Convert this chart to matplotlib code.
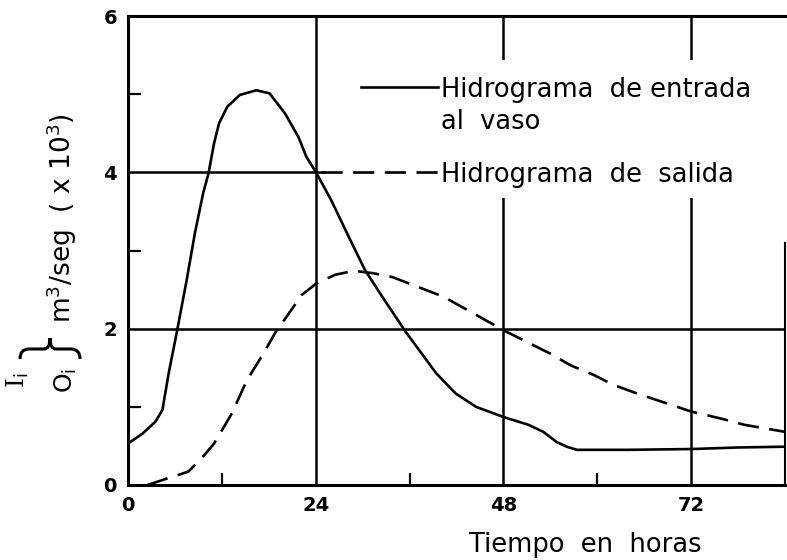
import matplotlib
matplotlib.use('Agg')
import matplotlib.pyplot as plt
from matplotlib.patches import Rectangle, PathPatch
from matplotlib.path import Path

# Hidrograma de entrada al vaso: tiempo (h) y gasto (x 10^3 m3/seg)
t_entrada = [0, 1.9, 3.5, 4.4, 5.2, 6.25, 7.5, 8.55, 9.6, 10.3, 11.0, 11.65, 12.7,
             14.3, 16.4, 18.1, 20.1, 21.8, 22.8, 24.1, 26.0, 28.2, 30.3, 32.5,
             35.5, 39.4, 41.9, 44.5, 48.0, 51.2, 53.1, 54.8, 56.1, 57.4, 64.0,
             72.0, 78.0, 84.0]
q_entrada = [0.53, 0.66, 0.81, 0.96, 1.43, 1.96, 2.62, 3.22, 3.73, 3.99, 4.37, 4.63, 4.84,
             4.99, 5.05, 5.01, 4.75, 4.45, 4.2, 3.99, 3.64, 3.18, 2.75, 2.41,
             1.96, 1.43, 1.17, 1.0, 0.87, 0.77, 0.68, 0.55, 0.49, 0.45, 0.45,
             0.46, 0.48, 0.49]

# Hidrograma de salida
t_salida = [2.5, 5.2, 7.7, 9.4, 11.0, 12.3, 13.3, 15.2, 17.3, 18.9, 20.6, 22.2,
            24.1, 26.5, 28.9, 31.3, 33.8, 36.4, 40.3, 44.1, 48.0, 51.4, 54.0,
            56.6, 59.5, 62.1, 65.1, 68.1, 72.0, 75.8, 78.8, 84.0]
q_salida = [0.0, 0.09, 0.17, 0.34, 0.53, 0.75, 0.92, 1.34, 1.68, 1.96, 2.2, 2.43,
            2.58, 2.69, 2.74, 2.71, 2.66, 2.56, 2.41, 2.2, 1.98, 1.81, 1.68,
            1.53, 1.41, 1.28, 1.17, 1.07, 0.94, 0.85, 0.77, 0.68]

x_ticks = [0, 24, 48, 72]
x_minor = [12, 36, 60]
y_ticks = [0, 2, 4, 6]
y_minor = [1, 3, 5]

plt.rcParams['font.family'] = ['DejaVu Sans']

W, H = 787, 560
fig = plt.figure(figsize=(W/100, H/100), dpi=100)
ax = fig.add_axes([128/W, 75/H, 657/W, 469/H])
ax.set_xlim(0, 84)
ax.set_ylim(0, 6)

ax.set_xticks(x_ticks)
ax.set_xticks(x_minor, minor=True)
ax.set_yticks(y_ticks)
ax.set_yticks(y_minor, minor=True)
ax.tick_params(which='major', length=0, labelsize=14, pad=8)
ax.tick_params(which='minor', direction='in', length=9, width=1.6)
for lab in ax.get_xticklabels() + ax.get_yticklabels():
    lab.set_fontweight('bold')

ax.grid(True, which='major', color='black', lw=1.8)
ax.set_axisbelow(True)
for s in ax.spines.values():
    s.set_linewidth(2.2)
ax.spines['right'].set_linewidth(1.5)
ax.spines['right'].set_bounds(0, 3.1)

# curvas
ax.plot(t_entrada, q_entrada, color='black', lw=1.9, zorder=3)
ax.plot(t_salida, q_salida, color='black', lw=1.9, ls=(0, (8, 4)), zorder=3)

# leyenda dibujada a mano sobre fondo blanco
ax.add_patch(Rectangle((0.30, 0.612), 0.70, 0.294, transform=ax.transAxes,
                       facecolor='white', edgecolor='none', zorder=1))
ax.plot([0.355, 0.472], [0.849, 0.849], transform=ax.transAxes,
        color='black', lw=1.9, zorder=3)
ax.plot([0.294, 0.472], [0.667, 0.667], transform=ax.transAxes,
        color='black', lw=1.9, ls=(0, (8, 4)), zorder=3)
ax.text(0.476, 0.849, 'Hidrograma  de entrada', transform=ax.transAxes,
        fontsize=18.5, va='center_baseline', ha='left', zorder=4)
ax.text(0.476, 0.781, 'al  vaso', transform=ax.transAxes,
        fontsize=18.5, va='center_baseline', ha='left', zorder=4)
ax.text(0.476, 0.667, 'Hidrograma  de  salida', transform=ax.transAxes,
        fontsize=18.5, va='center_baseline', ha='left', zorder=4)

# titulo del eje x
fig.text(585/W, 1 - 545/H, 'Tiempo  en  horas', fontsize=18.5,
         ha='center', va='center')

# titulo del eje y: I_i y O_i agrupados con una llave
fig.text(18/W, 1 - 380/H, r'I$_\mathrm{i}$', fontsize=18, rotation=90,
         ha='center', va='center', family='DejaVu Serif')
fig.text(66/W, 1 - 380/H, r'O$_\mathrm{i}$', fontsize=18, rotation=90,
         ha='center', va='center')

def px(x, y):
    return (x / W, 1 - y / H)

llave = [px(20, 359), px(20, 349), px(29, 349), px(44, 349), px(50, 349), px(50, 338),
         px(50, 349), px(56, 349), px(71, 349), px(80, 349), px(80, 359)]
codigos = [Path.MOVETO, Path.CURVE3, Path.CURVE3, Path.LINETO, Path.CURVE3, Path.CURVE3,
           Path.CURVE3, Path.CURVE3, Path.LINETO, Path.CURVE3, Path.CURVE3]
fig.add_artist(PathPatch(Path(llave, codigos), transform=fig.transFigure,
                         fill=False, lw=2.2, edgecolor='black'))

fig.text(62/W, 1 - 218/H, r'm$^3$/seg  ( x 10$^3$)', fontsize=19,
         rotation=90, ha='center', va='center')

fig.savefig('out.png', dpi=100)
